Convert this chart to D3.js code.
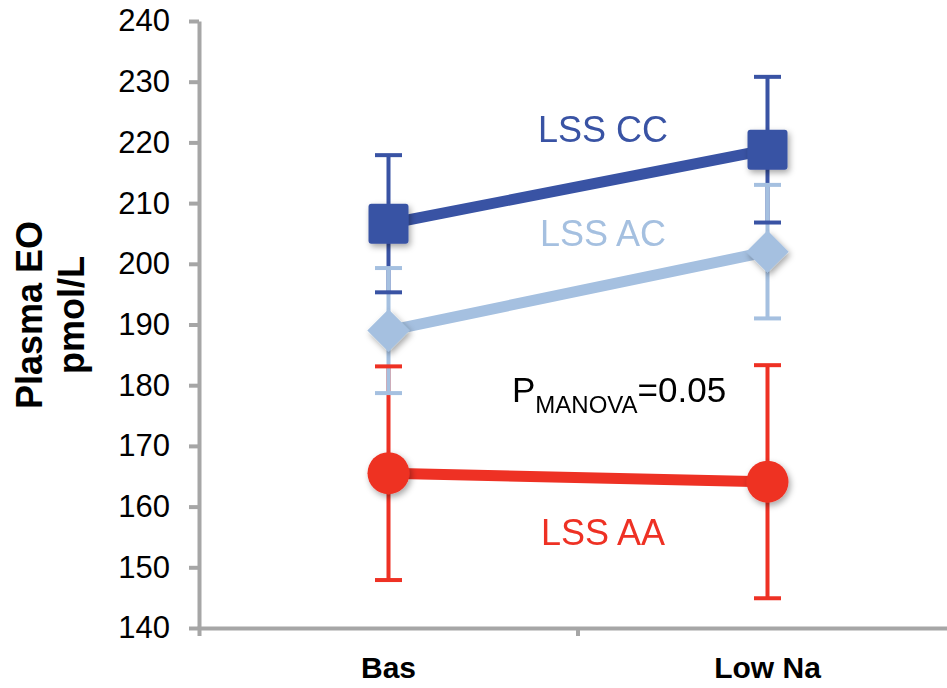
<!DOCTYPE html>
<html>
<head>
<meta charset="utf-8">
<script src="https://cdn.jsdelivr.net/npm/d3@7"></script>
<style>
  html, body { margin: 0; padding: 0; background: #fff; }
  svg { display: block; font-family: "Liberation Sans", Arial, Helvetica, sans-serif; }
</style>
</head>
<body>
<div id="chart"></div>
<script>
// Data (mean and error half-width, pmol/L)
const categories = ['Bas', 'Low Na'];
const yTicks = [140, 150, 160, 170, 180, 190, 200, 210, 220, 230, 240];

const aaMean = [165.5, 164.1];
const aaErr = [17.6, 19.2];
const ccMean = [206.6, 218.8];
const ccErr = [11.3, 12.0];
const acMean = [189.0, 202.0];
const acErr = [10.3, 11.0];

const seriesNames = ['LSS AA', 'LSS CC', 'LSS AC'];
const seriesColors = ['#ee3124', '#3953a4', '#a5c0e0'];
const seriesShapes = ['circle', 'square', 'diamond'];
// where each name label sits (y in data units)
const labelValues = [153.7, 220.1, 202.9];

const series = seriesNames.map((name, i) => ({
    name,
    color: seriesColors[i],
    shape: seriesShapes[i],
    labelY: labelValues[i],
    values: categories.map((c, j) => ({
        cat: c,
        mean: [aaMean, ccMean, acMean][i][j],
        err: [aaErr, ccErr, acErr][i][j]
    }))
}));

const W = 947, H = 688;
const axisGray = '#a6a6a6';

const svg = d3.select('#chart').append('svg')
    .attr('width', W)
    .attr('height', H);

const defs = svg.append('defs');
const shadow = defs.append('filter')
    .attr('id', 'shadow')
    .attr('x', '-50%').attr('y', '-50%')
    .attr('width', '200%').attr('height', '200%');
shadow.append('feDropShadow')
    .attr('dx', 2).attr('dy', 3)
    .attr('stdDeviation', 3)
    .attr('flood-color', '#000')
    .attr('flood-opacity', 0.35);

// Scales
const x = d3.scaleBand()
    .domain(categories)
    .range([199, 957])
    .padding(0);
const cx = d => x(d) + x.bandwidth() / 2;

const y = d3.scaleLinear()
    .domain([140, 240])
    .range([628, 21]);

// Y axis
const yAxis = svg.append('g')
    .attr('transform', 'translate(199,0)')
    .call(d3.axisLeft(y).tickValues(yTicks).tickSize(10).tickSizeOuter(0).tickPadding(19));
yAxis.selectAll('path, line')
    .attr('stroke', axisGray)
    .attr('stroke-width', 4);
yAxis.selectAll('text')
    .style('font-size', '31px')
    .attr('fill', '#000');

// X axis
const xAxis = svg.append('g')
    .attr('transform', 'translate(0,628)')
    .call(d3.axisBottom(x).tickSize(0).tickSizeOuter(8).tickPadding(29));
xAxis.select('.domain')
    .attr('stroke', axisGray)
    .attr('stroke-width', 4);
xAxis.selectAll('text')
    .style('font-size', '30px')
    .style('font-weight', 'bold')
    .attr('fill', '#000');
// tick between the two groups
xAxis.append('line')
    .attr('x1', x(categories[1])).attr('x2', x(categories[1]))
    .attr('y1', 0).attr('y2', 8)
    .attr('stroke', axisGray)
    .attr('stroke-width', 4);

// Y axis title
const yTitle = svg.append('text')
    .attr('transform', 'translate(42,315) rotate(-90)')
    .attr('text-anchor', 'middle')
    .style('font-size', '36px')
    .style('font-weight', 'bold')
    .attr('fill', '#000');
yTitle.append('tspan').attr('x', 0).attr('dy', 0).text('Plasma EO');
yTitle.append('tspan').attr('x', 0).attr('dy', 42).text('pmol/L');

// Error bars: verticals first, then caps
const capHalf = 13.5;
series.forEach(s => {
    svg.append('g').selectAll('line')
        .data(s.values)
        .join('line')
        .attr('x1', d => cx(d.cat)).attr('x2', d => cx(d.cat))
        .attr('y1', d => y(d.mean + d.err))
        .attr('y2', d => y(d.mean - d.err))
        .attr('stroke', s.color)
        .attr('stroke-width', 4);
});
series.forEach(s => {
    const caps = s.values.flatMap(d => [
        { cat: d.cat, v: d.mean + d.err },
        { cat: d.cat, v: d.mean - d.err }
    ]);
    svg.append('g').selectAll('line')
        .data(caps)
        .join('line')
        .attr('x1', d => cx(d.cat) - capHalf)
        .attr('x2', d => cx(d.cat) + capHalf)
        .attr('y1', d => y(d.v)).attr('y2', d => y(d.v))
        .attr('stroke', s.color)
        .attr('stroke-width', 4);
});

// Connecting lines
const line = d3.line()
    .x(d => cx(d.cat))
    .y(d => y(d.mean));
series.forEach(s => {
    svg.append('path')
        .datum(s.values)
        .attr('d', line)
        .attr('fill', 'none')
        .attr('stroke', s.color)
        .attr('stroke-width', 11);
});

// Markers
series.forEach(s => {
    const g = svg.append('g').attr('filter', 'url(#shadow)');
    s.values.forEach(d => {
        const px = cx(d.cat), py = y(d.mean);
        if (s.shape === 'circle') {
            g.append('circle')
                .attr('cx', px).attr('cy', py).attr('r', 21)
                .attr('fill', s.color);
        } else if (s.shape === 'square') {
            g.append('rect')
                .attr('x', px - 20).attr('y', py - 20)
                .attr('width', 40).attr('height', 40)
                .attr('rx', 3)
                .attr('fill', s.color);
        } else {
            g.append('rect')
                .attr('x', -15).attr('y', -15)
                .attr('width', 30).attr('height', 30)
                .attr('transform', `translate(${px},${py}) rotate(45)`)
                .attr('fill', s.color);
        }
    });
});

// Series labels
const labelX = (cx(categories[0]) + cx(categories[1])) / 2 + 25;
svg.append('g').selectAll('text')
    .data(series)
    .join('text')
    .attr('x', labelX)
    .attr('y', d => y(d.labelY))
    .attr('text-anchor', 'middle')
    .style('font-size', '36px')
    .attr('fill', d => d.color)
    .text(d => d.name);

// MANOVA p-value
const pText = svg.append('text')
    .attr('x', 512)
    .attr('y', 402)
    .attr('fill', '#000');
pText.append('tspan').style('font-size', '35px').text('P');
pText.append('tspan').style('font-size', '24px').attr('dy', 11).text('MANOVA');
pText.append('tspan').style('font-size', '35px').attr('dy', -11).text('=0.05');
</script>
</body>
</html>
